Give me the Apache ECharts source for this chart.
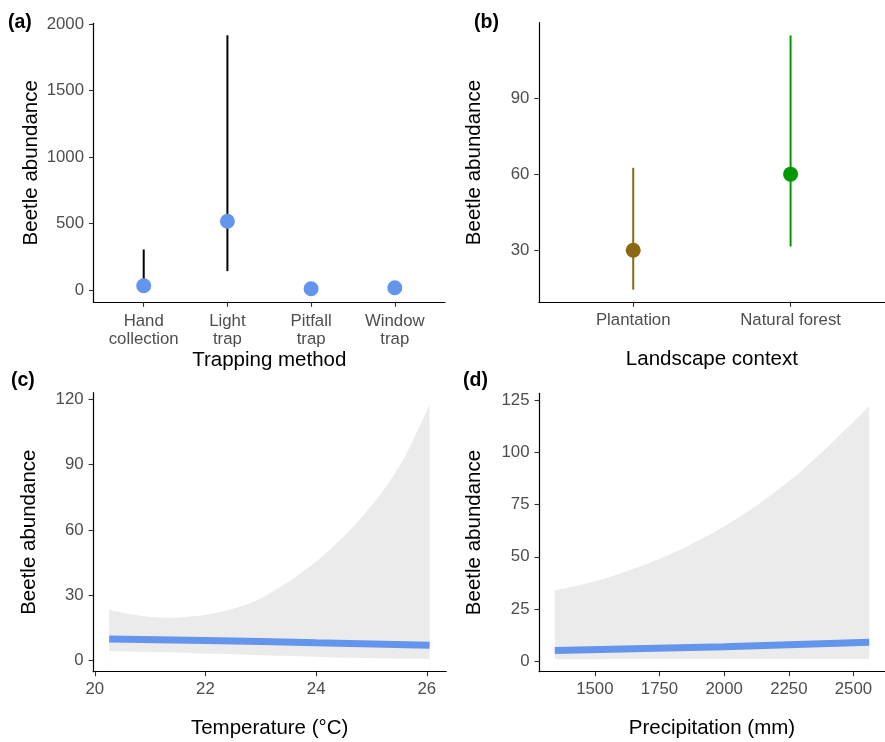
<!DOCTYPE html>
<html><head><meta charset="utf-8">
<script src="https://cdn.jsdelivr.net/npm/echarts@6/dist/echarts.min.js"></script>
<style>html,body{margin:0;padding:0;background:#fff}#c{width:885px;height:742px}</style>
</head><body><div id="c"></div>
<script>
// (a) Trapping method
const methods = ['Hand\ncollection', 'Light\ntrap', 'Pitfall\ntrap', 'Window\ntrap'];
const methodMean = [32, 517, 10, 17];
const methodLow = [5, 142, 3, 5];
const methodHigh = [305, 1915, 25, 40];
const methodTicks = [0, 500, 1000, 1500, 2000];

// (b) Landscape context
const landscapes = ['Plantation', 'Natural forest'];
const landMean = [30, 60];
const landLow = [14.5, 31.5];
const landHigh = [62.5, 114.7];
const landColors = ['#8B6914', '#009A00'];
const landTicks = [30, 60, 90];

// (c) Temperature
const temp = [20.26, 20.70, 21.30, 21.91, 22.27, 22.63, 22.99, 23.35, 23.71, 24.07, 24.64, 25.15, 25.55, 25.85, 26.05];
const tempUpper = [23.3, 21.0, 19.6, 20.7, 22.2, 24.8, 28.4, 33.7, 39.9, 46.8, 60.6, 75.9, 91.2, 106.6, 117.3];
const tempLower = [4.3, 4.0, 3.7, 3.2, 3.0, 2.7, 2.4, 2.1, 1.9, 1.6, 1.2, 0.9, 0.8, 0.7, 0.6];
const tempLineX = [20.26, 22, 24, 26.05];
const tempLineY = [9.8, 9.2, 8.1, 7.0];
const tempXTicks = [20, 22, 24, 26];
const tempYTicks = [0, 30, 60, 90, 120];

// (d) Precipitation
const precip = [1345, 1542, 1794, 2047, 2300, 2561];
const precipUpper = [33.8, 39.7, 51.3, 68.1, 91.2, 122.2];
const precipLower = [1.0, 1.0, 1.05, 1.1, 1.1, 1.1];
const precipLineX = [1345, 2000, 2561];
const precipLineY = [5.1, 6.9, 9.1];
const precipXTicks = [1500, 1750, 2000, 2250, 2500];
const precipYTicks = [0, 25, 50, 75, 100, 125];

const FONT = 'Liberation Sans, Arial, sans-serif';
const BLUE = '#6495ED';
const RIBBON = '#EBEBEB';

function axisBase(extra) {
  return Object.assign({
    z: 10,
    axisLine: { show: true, onZero: false, lineStyle: { color: '#000', width: 1.2 } },
    axisTick: { show: true, length: 4.5, lineStyle: { color: '#333', width: 1.1 } },
    splitLine: { show: false },
    axisLabel: { color: '#4D4D4D', fontSize: 16.8, fontFamily: FONT, margin: 9.5, formatter: v => String(v) },
    nameLocation: 'middle',
    nameTextStyle: { color: '#000', fontSize: 20.5, fontFamily: FONT, verticalAlign: 'middle' }
  }, extra);
}
function withTicks(ax, ticks, formatter) {
  ax.axisTick.customValues = ticks;
  ax.axisLabel.customValues = ticks;
  if (formatter) ax.axisLabel.formatter = formatter;
  return ax;
}

function errBar(color) {
  return function (params, api) {
    const x = api.value(0), lo = api.value(1), hi = api.value(2);
    const p1 = api.coord([x, lo]), p2 = api.coord([x, hi]);
    const c = Array.isArray(color) ? color[params.dataIndex] : color;
    return { type: 'line', shape: { x1: p1[0], y1: p1[1], x2: p2[0], y2: p2[1] },
      style: { stroke: c, lineWidth: 2 } };
  };
}

function ribbon(xs, lows, highs, xi) {
  // Upper edge filled grey to the axis, lower edge filled white over it.
  return [
    { type: 'line', xAxisIndex: xi, yAxisIndex: xi, symbol: 'none', smooth: 0.3, z: 1, silent: true,
      lineStyle: { width: 0, opacity: 0 }, areaStyle: { color: RIBBON, opacity: 1, origin: 'start' },
      data: xs.map((t, i) => [t, highs[i]]) },
    { type: 'line', xAxisIndex: xi, yAxisIndex: xi, symbol: 'none', smooth: 0.3, z: 2, silent: true,
      lineStyle: { width: 0, opacity: 0 }, areaStyle: { color: '#fff', opacity: 1, origin: 'start' },
      data: xs.map((t, i) => [t, lows[i]]) }
  ];
}

const xA = withTicks(axisBase({ type: 'value', gridIndex: 0, min: 0.4, max: 4.6, name: 'Trapping method', nameGap: 57 }),
  [1, 2, 3, 4], v => methods[Math.round(v) - 1]);
xA.axisLabel.lineHeight = 18.4;
const yA = withTicks(axisBase({ type: 'value', gridIndex: 0, min: -92, max: 2005, name: 'Beetle abundance', nameGap: 62 }), methodTicks);

const xB = withTicks(axisBase({ type: 'value', gridIndex: 1, min: 0.4, max: 2.6, name: 'Landscape context', nameGap: 57 }),
  [1, 2], v => landscapes[Math.round(v) - 1]);
const yB = withTicks(axisBase({ type: 'value', gridIndex: 1, min: 9.5, max: 119.7, name: 'Beetle abundance', nameGap: 64.5 }), landTicks);

const xC = withTicks(axisBase({ type: 'value', gridIndex: 2, min: 19.97, max: 26.35, name: 'Temperature (°C)', nameGap: 56.5 }), tempXTicks);
const yC = withTicks(axisBase({ type: 'value', gridIndex: 2, min: -5.2, max: 123.1, name: 'Beetle abundance', nameGap: 63.5 }), tempYTicks);

const xD = withTicks(axisBase({ type: 'value', gridIndex: 3, min: 1284, max: 2622, name: 'Precipitation (mm)', nameGap: 56.5 }), precipXTicks);
const yD = withTicks(axisBase({ type: 'value', gridIndex: 3, min: -5, max: 128.3, name: 'Beetle abundance', nameGap: 64.5 }), precipYTicks);

const tag = (t, l, top) => ({ text: t, left: l, top: top, padding: 0,
  textStyle: { fontSize: 19.5, fontWeight: 'bold', fontFamily: FONT, color: '#000' } });

const option = {
  animation: false,
  backgroundColor: '#fff',
  title: [tag('(a)', 8, 13), tag('(b)', 474, 12.5), tag('(c)', 11, 371), tag('(d)', 463, 371)],
  grid: [
    { left: 93.5, top: 23.3, width: 351.5, height: 279 },
    { left: 538.8, top: 22.7, width: 352.7, height: 279.6 },
    { left: 93.1, top: 392.7, width: 353.1, height: 279 },
    { left: 539, top: 393.3, width: 352.7, height: 278.4 }
  ],
  xAxis: [xA, xB, xC, xD],
  yAxis: [yA, yB, yC, yD],
  series: [
    { type: 'custom', xAxisIndex: 0, yAxisIndex: 0, renderItem: errBar('#000'),
      encode: { x: 0, y: [1, 2] }, z: 2,
      data: methods.map((m, i) => [i + 1, methodLow[i], methodHigh[i]]) },
    { type: 'scatter', xAxisIndex: 0, yAxisIndex: 0, symbolSize: 15, z: 3,
      itemStyle: { color: BLUE, opacity: 1 },
      data: methods.map((m, i) => [i + 1, methodMean[i]]) },

    { type: 'custom', xAxisIndex: 1, yAxisIndex: 1, renderItem: errBar(landColors),
      encode: { x: 0, y: [1, 2] }, z: 2,
      data: landscapes.map((m, i) => [i + 1, landLow[i], landHigh[i]]) },
    { type: 'scatter', xAxisIndex: 1, yAxisIndex: 1, symbolSize: 15, z: 3,
      data: landscapes.map((m, i) => ({ value: [i + 1, landMean[i]], itemStyle: { color: landColors[i], opacity: 1 } })) },

    ...ribbon(temp, tempLower, tempUpper, 2),
    { type: 'line', xAxisIndex: 2, yAxisIndex: 2, symbol: 'none', smooth: true, z: 3,
      lineStyle: { width: 7, color: BLUE, cap: 'butt' },
      data: tempLineX.map((t, i) => [t, tempLineY[i]]) },

    ...ribbon(precip, precipLower, precipUpper, 3),
    { type: 'line', xAxisIndex: 3, yAxisIndex: 3, symbol: 'none', smooth: true, z: 3,
      lineStyle: { width: 7, color: BLUE, cap: 'butt' },
      data: precipLineX.map((t, i) => [t, precipLineY[i]]) }
  ]
};
const chart = echarts.init(document.getElementById('c'), null, { renderer: 'canvas' });
chart.setOption(option);
</script>
</body></html>
